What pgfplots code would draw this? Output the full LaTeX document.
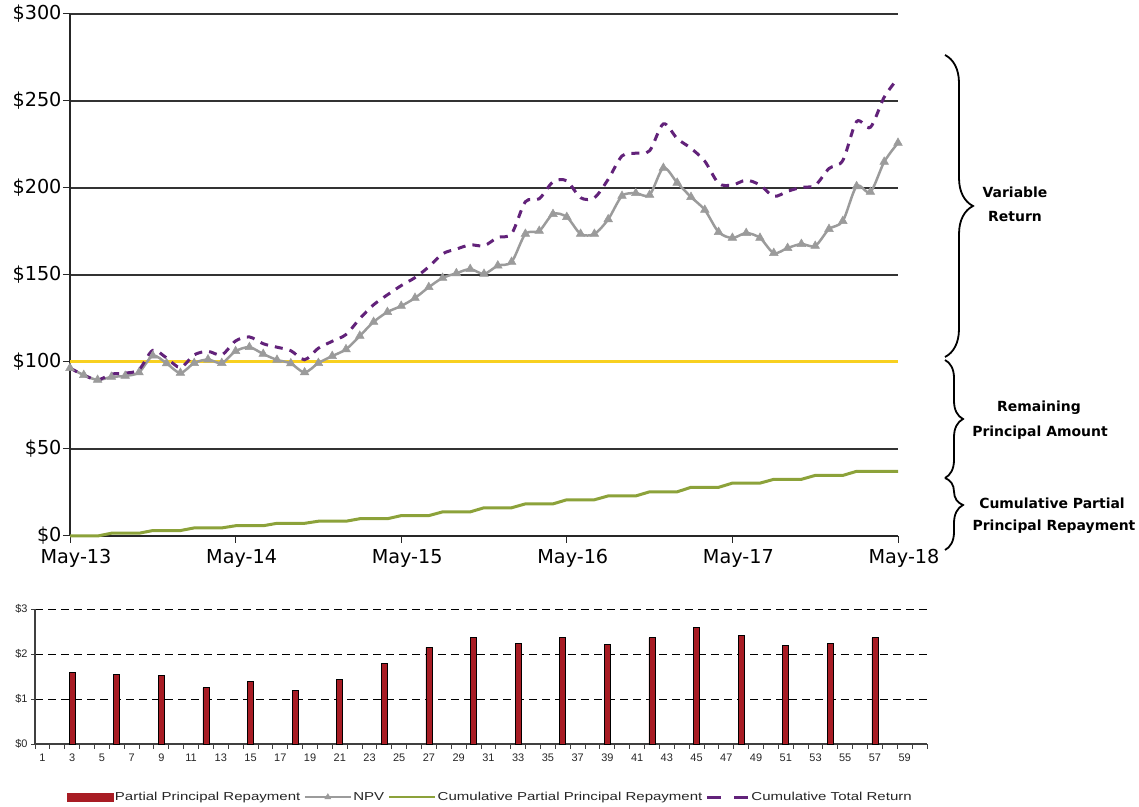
\documentclass[border=0pt]{standalone}
\usepackage{fontspec}
\setmainfont{DejaVu Sans}
\newfontfamily\arialfont{Liberation Sans}
\newfontfamily\legfont[FakeStretch=1.3]{Liberation Sans}
\usepackage{pgfplots}
\usepackage{pgfplotstable}
\pgfplotsset{compat=1.18}
\usetikzlibrary{decorations.pathreplacing}
\definecolor{npvgray}{RGB}{155,155,155}
\definecolor{cumgreen}{RGB}{140,162,58}
\definecolor{totpurple}{RGB}{98,34,122}
\definecolor{goldline}{RGB}{248,208,32}
\definecolor{barred}{RGB}{168,28,36}

\pgfplotsset{
  legbar/.style={legend image code/.code={\fill[barred] (0bp,-4bp) rectangle (46bp,4bp);}},
  legnpv/.style={legend image code/.code={\draw[npvgray, line width=2bp] (0bp,0bp) -- (46bp,0bp);
      \draw[npvgray, mark repeat=2, mark phase=2, mark=triangle*, mark size=3.5bp, mark options={fill=npvgray}] plot coordinates {(0bp,0bp) (23bp,0bp) (46bp,0bp)};}},
  leggreen/.style={legend image code/.code={\draw[cumgreen, line width=2.5bp] (0bp,0bp) -- (46bp,0bp);}},
  legpurple/.style={legend image code/.code={\draw[totpurple, line width=3bp, dash pattern=on 14bp off 13bp] (0bp,0bp) -- (41bp,0bp);}},
}

\pgfplotstableread{
m npv cum tot
0 96.5 0 96.5
1 92.5 0 92.5
2 89.7 0 89.7
3 91.4 1.59 93.0
4 92.0 1.59 93.6
5 94.0 1.59 95.6
6 103.6 3.13 106.7
7 99.2 3.13 102.3
8 93.7 3.13 96.8
9 99.4 4.65 104.1
10 101.4 4.65 106.1
11 99.4 4.65 104.1
12 106.2 5.90 112.1
13 108.5 5.90 114.4
14 104.6 5.90 110.5
15 101.2 7.29 108.5
16 99.2 7.29 106.5
17 94.0 7.29 101.3
18 99.4 8.49 107.9
19 103.4 8.49 111.9
20 107.3 8.49 115.8
21 115.0 9.93 124.9
22 123.0 9.93 132.9
23 128.7 9.93 138.6
24 132.2 11.71 143.9
25 136.8 11.71 148.5
26 143.0 11.71 154.7
27 148.3 13.86 162.2
28 151.0 13.86 164.9
29 153.4 13.86 167.3
30 150.6 16.22 166.8
31 155.4 16.22 171.6
32 157.5 16.22 173.7
33 173.6 18.46 192.1
34 175.3 18.46 193.8
35 185.0 18.46 203.5
36 183.3 20.82 204.1
37 173.6 20.82 194.4
38 173.6 20.82 194.4
39 182.0 23.03 205.0
40 195.4 23.03 218.4
41 197.0 23.03 220.0
42 196.0 25.39 221.4
43 211.5 25.39 236.9
44 203.0 25.39 228.4
45 194.8 27.97 222.8
46 187.4 27.97 215.4
47 174.7 27.97 202.7
48 171.3 30.39 201.7
49 174.1 30.39 204.5
50 171.3 30.39 201.7
51 162.6 32.57 195.2
52 165.5 32.57 198.1
53 167.8 32.57 200.4
54 166.7 34.81 201.5
55 176.4 34.81 211.2
56 181.0 34.81 215.8
57 201.0 37.17 238.2
58 197.7 37.17 234.9
59 215.0 37.17 252.2
60 225.9 37.17 263.1
}\toptable

\pgfplotstableread{
m base
0 100
60 100
}\basetable

\pgfplotstableread{
x y
3 1.59
6 1.54
9 1.52
12 1.25
15 1.385
18 1.20
21 1.44
24 1.78
27 2.15
30 2.36
33 2.24
36 2.36
39 2.21
42 2.36
45 2.58
48 2.42
51 2.18
54 2.24
57 2.36
}\bartable

\begin{document}
\begin{tikzpicture}
\useasboundingbox (0bp,0bp) rectangle (1139bp,807bp);

% ---------------- top chart ----------------
\begin{axis}[
  at={(70bp,271bp)}, anchor=south west,
  scale only axis, width=828bp, height=522bp,
  xmin=0, xmax=60, ymin=0, ymax=300,
  axis x line*=bottom, axis y line*=left,
  axis line style={-, black!85, line width=1.3bp},
  xtick={0,12,24,36,48,60},
  xticklabels={May-13,May-14,May-15,May-16,May-17,May-18},
  ytick={0,50,100,150,200,250,300},
  yticklabels={\$0,\$50,\$100,\$150,\$200,\$250,\$300},
  ymajorgrids, grid style={black!80, line width=1.2bp},
  tick align=outside, major tick length=7bp,
  tick style={black!85, line width=1bp},
  ticklabel style={font=\fontsize{19.3}{22}\selectfont},
  xticklabel style={xshift=6bp, yshift=-3bp},
  yticklabel style={xshift=2bp},
  clip=false,
]
\addplot[goldline, line width=3bp] table[x=m, y=base] {\basetable};
\addplot[cumgreen, line width=3bp] table[x=m, y=cum] {\toptable};
\addplot[npvgray, line width=2.5bp, smooth, tension=0.5, mark=triangle*, mark size=5bp, mark options={solid, fill=npvgray, draw=npvgray, line width=0.5bp}] table[x=m, y=npv] {\toptable};
\addplot[totpurple, line width=3bp, smooth, tension=0.5, dash pattern=on 8bp off 7bp] table[x=m, y=tot] {\toptable};
\end{axis}

% ---------------- bottom chart ----------------
\begin{axis}[
  at={(35bp,63bp)}, anchor=south west,
  scale only axis, width=892bp, height=135bp,
  xmin=0.5, xmax=60.5, ymin=0, ymax=3,
  axis x line*=bottom, axis y line*=left,
  axis line style={-, black!75, line width=1.2bp},
  ytick={0,1,2,3}, yticklabels={\$0,\$1,\$2,\$3},
  ymajorgrids, grid style={black, dash pattern=on 8bp off 5bp, line width=0.9bp},
  xtick={1,3,...,59},
  minor xtick={0.5,1.5,...,60.5},
  tick align=outside,
  major tick length=4bp, minor tick length=5bp,
  xtick style={draw=none},
  minor x tick style={draw=black!75, line width=1bp},
  ytick style={black!75, line width=1bp},
  /pgf/number format/assume math mode=true,
  ticklabel style={font=\arialfont\fontsize{11}{12}\selectfont, text=black!85},
  xticklabel style={yshift=-2bp},
  clip=false,
  legend style={at={(0.510,-0.393)}, anchor=center, draw=none, fill=none,
    legend columns=4,
    /tikz/every even column/.append style={column sep=2bp},
    nodes={inner sep=1.5bp, font=\legfont\fontsize{11.6}{12}\selectfont, text=black!85}},
  legend cell align=left,
]
\addplot[ybar, bar width=6bp, fill=barred, draw=black, line width=0.9bp, legbar]
  table[x=x, y=y] {\bartable};
\addlegendentry{Partial Principal Repayment}
\addlegendimage{legnpv}
\addlegendentry{NPV}
\addlegendimage{leggreen}
\addlegendentry{Cumulative Partial Principal Repayment}
\addlegendimage{legpurple}
\addlegendentry{Cumulative Total Return}
\end{axis}

% ---------------- braces and annotations ----------------
\draw[line width=1.8bp, decorate, decoration={brace, amplitude=28bp, aspect=0.5}]
  (945bp,752bp) -- (945bp,450bp);
\draw[line width=1.8bp, decorate, decoration={brace, amplitude=18bp, aspect=0.5}]
  (945bp,447bp) -- (945bp,329bp);
\draw[line width=1.8bp, decorate, decoration={brace, amplitude=18bp, aspect=0.375}]
  (945bp,329bp) -- (945bp,257bp);

\begin{scope}[every node/.style={font=\bfseries\fontsize{14}{16}\selectfont, inner sep=0pt, anchor=center}]
\node at (1015bp,615bp) {Variable};
\node at (1015bp,590bp) {Return};
\node at (1039bp,399bp) {Remaining};
\node at (1040bp,374bp) {Principal Amount};
\node at (1052bp,304bp) {Cumulative Partial};
\node at (1054bp,280bp) {Principal Repayment};
\end{scope}
\end{tikzpicture}
\end{document}
